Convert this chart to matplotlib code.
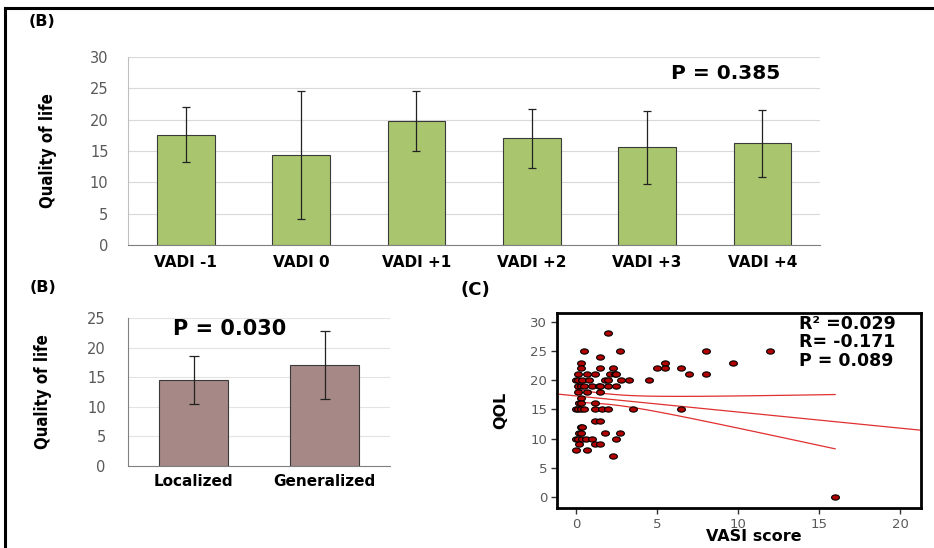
import matplotlib.pyplot as plt
import numpy as np
from matplotlib import font_manager
from matplotlib.lines import Line2D
from matplotlib.path import Path
from matplotlib.transforms import Affine2D

# panel B (top): QoL by VADI
vadi_labels = ['VADI -1', 'VADI 0', 'VADI +1', 'VADI +2', 'VADI +3', 'VADI +4']
vadi_mean = [17.6, 14.4, 19.8, 17.0, 15.6, 16.2]
vadi_err = [4.4, 10.2, 4.85, 4.7, 5.85, 5.35]

# panel B (bottom): QoL by type
type_labels = ['Localized', 'Generalized']
type_mean = [14.6, 17.0]
type_err = [4.05, 5.75]

# panel C: VASI score vs QOL
vasi = [2.0, 0.5, 2.7, 1.5, 0.3,
        0.3, 1.5, 2.3,
        0.1, 0.7, 1.2, 2.1, 2.4, 2.5,
        0.0, 0.1, 0.4, 0.8, 1.8, 2.0, 2.8, 3.3,
        0.1, 0.3, 0.5, 1.0, 1.4, 1.5, 2.0, 2.5,
        0.1, 0.7, 1.5,
        0.3,
        0.2, 0.3, 1.2,
        0.0, 0.1, 0.3, 0.5, 1.2, 1.6, 2.0, 3.5,
        1.2, 1.5,
        0.3, 0.4,
        0.2, 0.3, 1.8, 2.7,
        0.0, 0.1, 0.4, 0.6, 1.0, 2.5,
        0.2, 1.2, 1.5,
        0.0, 0.7,
        2.3,
        4.5, 5.0, 5.5, 5.5, 6.5, 6.5, 7.0, 8.0, 8.0, 9.7, 12.0, 16.0]
qol = [28, 25, 25, 24, 23,
       22, 22, 22,
       21, 21, 21, 21, 21, 21,
       20, 20, 20, 20, 20, 20, 20, 20,
       19, 19, 19, 19, 19, 19, 19, 19,
       18, 18, 18,
       17,
       16, 16, 16,
       15, 15, 15, 15, 15, 15, 15, 15,
       13, 13,
       12, 12,
       11, 11, 11, 11,
       10, 10, 10, 10, 10, 10,
       9, 9, 9,
       8, 8,
       7,
       20, 22, 23, 22, 22, 15, 21, 25, 21, 23, 25, 0]
stats_text = ['R\u00b2 =0.029', 'R= -0.171', 'P = 0.089']

# regression shown in the figure
fit_intercept = 17.3
fit_slope = -0.276
ci_center_x = 2.0      # narrowest point of the 95% band
ci_min_half = 0.89     # half-width at that point
ci_growth = 0.326      # half-width growth per unit distance

fig = plt.figure(figsize=(9.34, 5.48), dpi=100)

# outer frame lines (top and left)
fig.add_artist(Line2D([5/934, 1], [1-8/548, 1-8/548], color='black', lw=2.2))
fig.add_artist(Line2D([5/934, 5/934], [0, 1-8/548], color='black', lw=2.2))

tick_grey = '#595959'
wide = ['DejaVu Sans']
try:
    font_manager.findfont(font_manager.FontProperties(family='Liberation Sans Narrow', weight='bold'),
                          fallback_to_default=False)
    ylab_font = dict(family=['Liberation Sans Narrow'], fontsize=14)
except Exception:
    ylab_font = dict(family=['DejaVu Sans'], fontstretch='condensed', fontsize=12)

# ---- top bar chart
ax1 = fig.add_axes([128/934, 1-245/548, 692/934, 188/548])
x1 = np.arange(len(vadi_labels))
ax1.bar(x1, vadi_mean, width=0.5, color='#A9C66E', edgecolor='#3a3a3a', lw=0.8, zorder=3)
ax1.errorbar(x1, vadi_mean, yerr=vadi_err, fmt='none', ecolor='#222222',
             elinewidth=0.9, capsize=3, capthick=0.9, zorder=4)
ax1.set_xlim(-0.5, len(vadi_labels) - 0.5)
ax1.set_ylim(0, 30)
ax1.set_yticks(range(0, 31, 5))
ax1.yaxis.grid(True, color='#d9d9d9', lw=0.8, zorder=0)
ax1.set_xticks(x1)
ax1.set_xticklabels(vadi_labels, fontsize=11, fontweight='bold', family=wide)
ax1.tick_params(axis='y', length=0, labelsize=10.5, labelcolor=tick_grey, pad=14)
ax1.tick_params(axis='x', length=0, pad=7)
for s in ['top', 'right']:
    ax1.spines[s].set_visible(False)
ax1.spines['left'].set_color('#bfbfbf')
ax1.spines['bottom'].set_color('#808080')
ax1.set_ylabel('Quality of life', fontweight='bold', **ylab_font)
ax1.yaxis.set_label_coords(-0.103, 0.5)
ax1.text(0.785, 0.91, 'P = 0.385', transform=ax1.transAxes, fontsize=14.5, fontweight='bold',
         family=wide, va='center')
fig.text(29/934, 1-22/548, '(B)', fontsize=11.5, fontweight='bold', va='center', family=wide)

# ---- bottom-left bar chart
ax2 = fig.add_axes([128/934, 1-466/548, 262/934, 148/548])
x2 = np.arange(len(type_labels))
ax2.bar(x2, type_mean, width=0.52, color='#A68986', edgecolor='#3a3a3a', lw=0.8, zorder=3)
ax2.errorbar(x2, type_mean, yerr=type_err, fmt='none', ecolor='#222222',
             elinewidth=0.9, capsize=3.5, capthick=0.9, zorder=4)
ax2.set_xlim(-0.5, len(type_labels) - 0.5)
ax2.set_ylim(0, 25)
ax2.set_yticks(range(0, 26, 5))
ax2.yaxis.grid(True, color='#e3e3e3', lw=0.8, zorder=0)
ax2.set_xticks(x2)
ax2.set_xticklabels(type_labels, fontsize=11, fontweight='bold', family=wide)
ax2.tick_params(axis='y', length=0, labelsize=10.5, labelcolor=tick_grey, pad=16)
ax2.tick_params(axis='x', length=0, pad=6)
for s in ['top', 'right']:
    ax2.spines[s].set_visible(False)
ax2.spines['left'].set_color('#808080')
ax2.spines['bottom'].set_color('#808080')
ax2.set_ylabel('Quality of life', fontweight='bold', **ylab_font)
ax2.yaxis.set_label_coords(-0.29, 0.5)
ax2.text(0.17, 0.925, 'P = 0.030', transform=ax2.transAxes, fontsize=15, fontweight='bold',
         family=wide, va='center')
fig.text(30/934, 1-287/548, '(B)', fontsize=11.5, fontweight='bold', va='center', family=wide)

# ---- scatter with regression + 95% CI
ax3 = fig.add_axes([557/934, 1-508/548, 364/934, 195/548])
ellipse = Path.unit_circle().transformed(Affine2D().scale(1.5, 1.0))
ax3.scatter(vasi, qol, marker=ellipse, s=32, facecolor='#B00000', edgecolor='black', lw=0.8, zorder=3)

xl = np.array([-1.17, 21.3])
ax3.plot(xl, fit_intercept + fit_slope * xl, color='#e03030', lw=0.9, zorder=2)
xs = np.linspace(min(vasi), max(vasi), 100)
hw = np.sqrt(ci_min_half ** 2 + (ci_growth * (xs - ci_center_x)) ** 2)
ax3.plot(xs, fit_intercept + fit_slope * xs + hw, color='#e03030', lw=0.9, zorder=2)
ax3.plot(xs, fit_intercept + fit_slope * xs - hw, color='#e03030', lw=0.9, zorder=2)

ax3.set_xlim(-1.17, 21.3)
ax3.set_ylim(-1.9, 31.5)
ax3.set_xticks(range(0, 21, 5))
ax3.set_yticks(range(0, 31, 5))
for s in ax3.spines.values():
    s.set_linewidth(2)
ax3.tick_params(labelsize=9.5, labelcolor=tick_grey, length=4, width=1, color='#333333', pad=3)
ax3.set_xlabel('VASI score', fontsize=11.5, fontweight='bold', family=wide, va='top')
ax3.xaxis.set_label_coords(0.54, -0.11)
ax3.set_ylabel('QOL', fontsize=11.5, fontweight='bold', family=wide)
ax3.yaxis.set_label_coords(-0.135, 0.5)
for i, t in enumerate(stats_text):
    ax3.text(0.665, 0.944 - i * 0.095, t, transform=ax3.transAxes, fontsize=12.5,
             fontweight='bold', va='center', family=wide)
fig.text(460/934, 1-290/548, '(C)', fontsize=13, fontweight='bold', va='center', family=wide)

fig.savefig('out.png', dpi=100)
